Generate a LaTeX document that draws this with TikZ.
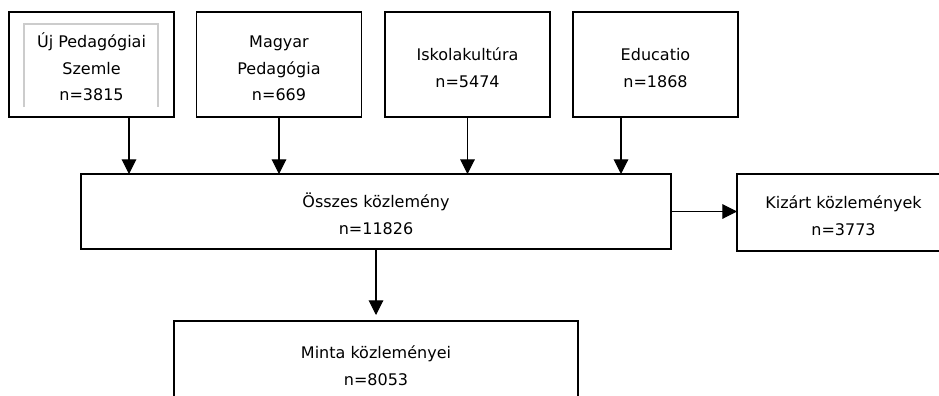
\documentclass[tikz,border=0pt]{standalone}
\usepackage{fontspec}
\setmainfont{DejaVu Sans}
\usetikzlibrary{arrows.meta}
\newcommand{\felso}{\rule{0pt}{18.6pt}}
\newcommand{\also}{\rule[-4pt]{0pt}{4pt}}
\begin{document}
\begin{tikzpicture}[
        x=0.75pt, y=-0.75pt,
        doboz/.style={
            rectangle,
            draw=black,
            line width=0.8pt,
            inner sep=0pt,
            outer sep=0pt,
            align=center,
            font=\fontsize{12}{20}\selectfont
        },
        forras/.style={
            doboz,
            minimum width=123.75pt,
            minimum height=78.75pt
        },
        nyil/.style={
            -{Triangle[length=11pt, width=11pt]},
            line width=0.8pt,
            draw=black
        },
        keret/.style={
            draw=gray!40,
            line width=1.5pt
        }
    ]
        \clip (0,0) rectangle (939,396);

        % Journals
        \node[forras] (upsz) at (91.5,64.5) {\felso Új Pedagógiai\\Szemle\\n=3815\also};
        \node[forras] (mp) at (279,64.5) {\felso Magyar\\Pedagógia\\n=669\also};
        \node[forras] (isk) at (467.5,64.5) {\felso Iskolakultúra\\n=5474\also};
        \node[forras] (edu) at (655.5,64.5) {\felso Educatio\\n=1868\also};

        % Inner text frame of the first box
        \draw[keret] (24,107) -- (24,24) -- (158,24) -- (158,107);

        % All, excluded and sample
        \node[doboz, minimum width=442.5pt, minimum height=56.25pt] (osszes) at (376,211.5) {\felso Összes közlemény\\n=11826\also};
        \node[doboz, minimum width=159.75pt, minimum height=57.75pt] (kizart) at (843.5,212.5) {\felso Kizárt közlemények\\n=3773\also};
        \node[doboz, minimum width=303pt, minimum height=61.5pt] (minta) at (376,362) {\felso Minta közleményei\\n=8053\also};

        % Arrows
        \draw[nyil] ([shift={(37.5,0)}]upsz.south) -- ([shift={(37.5,0)}]upsz.south |- osszes.north);
        \draw[nyil] (mp.south) -- (mp.south |- osszes.north);
        \draw[nyil] (isk.south) -- (isk.south |- osszes.north);
        \draw[nyil] ([shift={(-34.5,0)}]edu.south) -- ([shift={(-34.5,0)}]edu.south |- osszes.north);
        \draw[nyil] (osszes.east) -- (osszes.east -| kizart.west);
        \draw[nyil, shorten >=4.5pt] (osszes.south) -- (minta.north);
    \end{tikzpicture}
\end{document}
